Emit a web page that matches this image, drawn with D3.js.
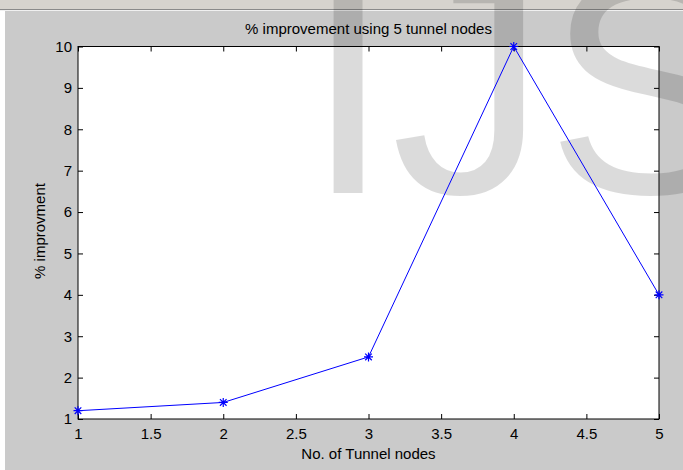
<!DOCTYPE html>
<html>
<head>
<meta charset="utf-8">
<script src="https://cdn.jsdelivr.net/npm/d3@7"></script>
<style>
  html, body { margin: 0; padding: 0; background: #cacaca; }
  svg { display: block; }
  text { font-family: "Liberation Sans", Arial, sans-serif; }
</style>
</head>
<body>
<div id="chart"></div>
<script>
// ---- data ----
const xValues = [1, 2, 3, 4, 5];
const yValues = [1.2, 1.4, 2.5, 10, 4];
const xTicks = [1, 1.5, 2, 2.5, 3, 3.5, 4, 4.5, 5];
const yTicks = [1, 2, 3, 4, 5, 6, 7, 8, 9, 10];
const titleText = "% improvement using 5 tunnel nodes";
const xLabelText = "No. of Tunnel nodes";
const yLabelText = "% improvment";
const watermarkText = "IJS";

// ---- layout ----
const W = 683, H = 470;
const plot = { left: 78, right: 659, top: 46.5, bottom: 419 };

const svg = d3.select("#chart").append("svg")
  .attr("width", W).attr("height", H);

// figure background
svg.append("rect").attr("x", 0).attr("y", 0).attr("width", W).attr("height", H).attr("fill", "#cacaca");
svg.append("rect").attr("x", 0).attr("y", 0).attr("width", W).attr("height", 9).attr("fill", "#d6d3ce");
svg.append("line").attr("x1", 0).attr("x2", W).attr("y1", 9.5).attr("y2", 9.5).attr("stroke", "#8a8a8a");
svg.append("line").attr("x1", 0).attr("x2", W).attr("y1", 10.5).attr("y2", 10.5).attr("stroke", "#f0f0f0");
svg.append("rect").attr("x", 0).attr("y", 11).attr("width", 5).attr("height", H - 11).attr("fill", "#ffffff");

// plot area
svg.append("rect")
  .attr("x", plot.left).attr("y", plot.top)
  .attr("width", plot.right - plot.left).attr("height", plot.bottom - plot.top)
  .attr("fill", "#ffffff");

// watermark
svg.append("text")
  .attr("x", 305).attr("y", 193)
  .attr("font-size", 310)
  .attr("fill", "#000")
  .attr("fill-opacity", 0.14)
  .text(watermarkText);

// scales
const x = d3.scaleLinear().domain([1, 5]).range([plot.left, plot.right]);
const y = d3.scaleLinear().domain([1, 10]).range([plot.bottom, plot.top]);

const fmt = d => String(d);

// axes
const gx = svg.append("g").attr("transform", `translate(0,${plot.bottom})`)
  .call(d3.axisBottom(x).tickValues(xTicks).tickFormat(fmt).tickSizeInner(-5).tickSizeOuter(0).tickPadding(9));
const gy = svg.append("g").attr("transform", `translate(${plot.left},0)`)
  .call(d3.axisLeft(y).tickValues(yTicks).tickFormat(fmt).tickSizeInner(-5).tickSizeOuter(0).tickPadding(6));
const gxt = svg.append("g").attr("transform", `translate(0,${plot.top})`)
  .call(d3.axisTop(x).tickValues(xTicks).tickFormat("").tickSizeInner(-5).tickSizeOuter(0));
const gyr = svg.append("g").attr("transform", `translate(${plot.right},0)`)
  .call(d3.axisRight(y).tickValues(yTicks).tickFormat("").tickSizeInner(-5).tickSizeOuter(0));

[gx, gy, gxt, gyr].forEach(g => {
  g.select(".domain").remove();
  g.selectAll(".tick line").attr("stroke", "#000");
  g.selectAll(".tick text").attr("fill", "#000").attr("font-size", 15)
    .attr("font-family", "'Liberation Sans', Arial, sans-serif");
});

// box
svg.append("rect")
  .attr("x", plot.left).attr("y", plot.top)
  .attr("width", plot.right - plot.left).attr("height", plot.bottom - plot.top)
  .attr("fill", "none").attr("stroke", "#000").attr("stroke-width", 1);

// data line
const pts = xValues.map((v, i) => [v, yValues[i]]);
svg.append("path")
  .datum(pts)
  .attr("fill", "none")
  .attr("stroke", "#0000ff")
  .attr("stroke-width", 1)
  .attr("d", d3.line().x(d => x(d[0])).y(d => y(d[1])));

// asterisk markers
const r = 4.5, rd = 3.3;
const star = `M${-r},0L${r},0M0,${-r}L0,${r}M${-rd},${-rd}L${rd},${rd}M${-rd},${rd}L${rd},${-rd}`;
svg.append("g").selectAll("path").data(pts).join("path")
  .attr("transform", d => `translate(${x(d[0])},${y(d[1])})`)
  .attr("d", star)
  .attr("fill", "none")
  .attr("stroke", "#0000ff")
  .attr("stroke-width", 1.2);

// title & labels
svg.append("text")
  .attr("x", (plot.left + plot.right) / 2).attr("y", 34)
  .attr("text-anchor", "middle").attr("font-size", 15).attr("fill", "#000")
  .text(titleText);
svg.append("text")
  .attr("x", (plot.left + plot.right) / 2).attr("y", 459)
  .attr("text-anchor", "middle").attr("font-size", 15).attr("fill", "#000")
  .text(xLabelText);
svg.append("text")
  .attr("transform", `translate(45,231) rotate(-90)`)
  .attr("text-anchor", "middle").attr("font-size", 15).attr("fill", "#000")
  .text(yLabelText);
</script>
</body>
</html>
